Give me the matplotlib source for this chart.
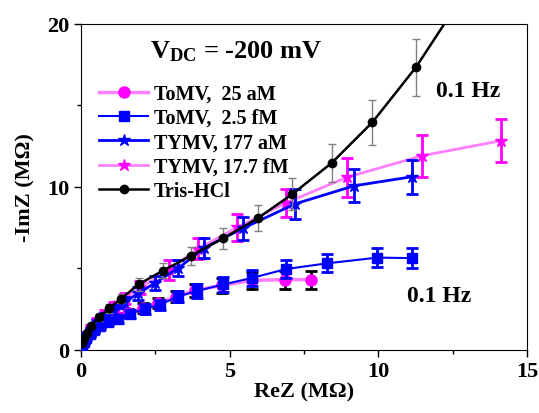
import numpy as np
import matplotlib.pyplot as plt
from matplotlib.ticker import MultipleLocator
from matplotlib.lines import Line2D

plt.rcParams['font.family'] = ['Liberation Serif', 'DejaVu Serif']
plt.rcParams['font.weight'] = 'bold'
plt.rcParams['mathtext.fontset'] = 'custom'
plt.rcParams['mathtext.bf'] = 'Liberation Serif:bold'
plt.rcParams['mathtext.rm'] = 'Liberation Serif:bold'

# ToMV, 25 aM
tomv25_x = [0.05, 0.1, 0.18, 0.3, 0.45, 0.65, 0.9, 1.2, 1.6, 2.1, 2.6, 3.2, 3.85, 4.75, 5.75, 6.85, 7.75]
tomv25_y = [0.3, 0.5, 0.75, 1.0, 1.25, 1.5, 1.75, 2.0, 2.25, 2.55, 2.85, 3.25, 3.65, 3.95, 4.25, 4.3, 4.3]
tomv25_e = [0.1, 0.1, 0.1, 0.15, 0.15, 0.2, 0.2, 0.25, 0.25, 0.3, 0.3, 0.35, 0.4, 0.45, 0.5, 0.55, 0.55]

# ToMV, 2.5 fM
tomv25f_x = [0.05, 0.1, 0.18, 0.3, 0.45, 0.65, 0.9, 1.25, 1.65, 2.15, 2.65, 3.25, 3.9, 4.78, 5.75, 6.9, 8.28, 9.97, 11.12]
tomv25f_y = [0.25, 0.45, 0.7, 0.95, 1.2, 1.45, 1.7, 1.9, 2.2, 2.5, 2.75, 3.25, 3.6, 4.0, 4.4, 4.95, 5.3, 5.65, 5.62]
tomv25f_e = [0.1, 0.1, 0.1, 0.15, 0.15, 0.2, 0.2, 0.25, 0.25, 0.3, 0.3, 0.35, 0.4, 0.45, 0.5, 0.55, 0.55, 0.6, 0.6]

# TYMV, 177 aM
tymv177_x = [0.05, 0.1, 0.2, 0.35, 0.55, 0.8, 1.1, 1.45, 1.93, 2.5, 3.27, 4.15, 5.45, 7.2, 9.19, 11.12]
tymv177_y = [0.3, 0.55, 0.85, 1.2, 1.6, 2.0, 2.45, 2.9, 3.45, 4.1, 5.0, 6.25, 7.45, 8.95, 10.06, 10.61]
tymv177_e = [0.1, 0.1, 0.15, 0.15, 0.2, 0.25, 0.3, 0.35, 0.4, 0.45, 0.5, 0.6, 0.7, 0.9, 1.0, 1.05]

# TYMV, 17.7 fM
tymv17_x = [0.05, 0.1, 0.2, 0.35, 0.55, 0.8, 1.1, 1.5, 2.0, 2.95, 3.95, 5.25, 6.88, 8.94, 11.46, 14.13]
tymv17_y = [0.35, 0.6, 0.95, 1.35, 1.75, 2.2, 2.65, 3.15, 3.8, 4.9, 6.2, 7.5, 9.0, 10.58, 11.9, 12.83]
tymv17_e = [0.1, 0.1, 0.15, 0.15, 0.2, 0.25, 0.3, 0.35, 0.4, 0.6, 0.65, 0.8, 0.85, 1.2, 1.3, 1.3]

# Tris-HCl
tris_x = [0.05, 0.12, 0.22, 0.35, 0.6, 0.94, 1.36, 1.95, 2.75, 3.69, 4.78, 5.94, 7.11, 8.43, 9.8, 11.26, 12.9]
tris_y = [0.4, 0.7, 1.05, 1.46, 1.98, 2.53, 3.14, 4.02, 4.84, 5.76, 6.83, 8.06, 9.55, 11.46, 13.96, 17.33, 21.9]
tris_e = [0.05, 0.1, 0.1, 0.15, 0.2, 0.25, 0.3, 0.4, 0.45, 0.55, 0.65, 0.8, 1.0, 1.14, 1.39, 1.74, 0.0]

labels = ['ToMV,  25 aM', 'ToMV,  2.5 fM', 'TYMV, 177 aM', 'TYMV, 17.7 fM', 'Tris-HCl']

fig = plt.figure(figsize=(5.39, 4.14), dpi=100)
ax = fig.add_axes([0.150, 0.153, 0.828, 0.787])

pink_line = '#FF80FF'
magenta = '#FF00FF'
blue = '#0000FF'

styles = [
    dict(color=pink_line, lw=2.5, marker='o', ms=8, mfc=magenta, mec=magenta),
    dict(color=blue, lw=1.5, marker='s', ms=7),
    dict(color=blue, lw=2, marker='*', ms=9),
    dict(color=pink_line, lw=2, marker='*', ms=9, mfc=magenta, mec=magenta),
    dict(color='black', lw=1.8, marker='o', ms=6),
]

ax.errorbar(tomv25_x, tomv25_y, yerr=tomv25_e, ecolor='black', elinewidth=2, capsize=4, capthick=2,
            zorder=3, **styles[0])
ax.errorbar(tomv25f_x, tomv25f_y, yerr=tomv25f_e, ecolor=blue, elinewidth=2, capsize=4, capthick=2,
            zorder=4, **styles[1])
ax.errorbar(tymv177_x, tymv177_y, yerr=tymv177_e, ecolor=blue, elinewidth=2, capsize=4, capthick=2,
            zorder=3, **styles[2])
ax.errorbar(tymv17_x, tymv17_y, yerr=tymv17_e, ecolor=magenta, elinewidth=2, capsize=4, capthick=2,
            zorder=2, **styles[3])
ax.errorbar(tris_x, tris_y, yerr=tris_e, ecolor='gray', elinewidth=1, capsize=3, capthick=1,
            zorder=5, **styles[4])

ax.set_xlim(0, 15)
ax.set_ylim(0, 20)
ax.xaxis.set_major_locator(MultipleLocator(5))
ax.xaxis.set_minor_locator(MultipleLocator(2.5))
ax.yaxis.set_major_locator(MultipleLocator(10))
ax.yaxis.set_minor_locator(MultipleLocator(5))
ax.tick_params(which='both', direction='out', labelsize=16, top=False, right=False)
ax.tick_params(which='major', length=5, width=1)
ax.tick_params(which='minor', length=3, width=1)
for lab in ax.get_xticklabels() + ax.get_yticklabels():
    lab.set_fontweight('bold')
ax.set_xlabel('ReZ (MΩ)', fontsize=16, fontweight='bold', labelpad=0)
ax.set_ylabel('-ImZ (MΩ)', fontsize=16, fontweight='bold', labelpad=8)

ax.text(0.155, 0.918, r'$\mathbf{V_{DC}}$ = -200 mV', transform=ax.transAxes, fontsize=19,
        fontweight='bold', va='center')
ax.text(0.795, 0.795, '0.1 Hz', transform=ax.transAxes, fontsize=17, fontweight='bold', va='center')
ax.text(0.73, 0.165, '0.1 Hz', transform=ax.transAxes, fontsize=17, fontweight='bold', va='center')

handles = [Line2D([], [], **s) for s in styles]
leg = ax.legend(handles, labels, loc='upper left', bbox_to_anchor=(0.01, 0.86), frameon=False,
                fontsize=14.5, handlelength=2.4, handletextpad=0.3, labelspacing=0.22,
                borderaxespad=0.3)
for t in leg.get_texts():
    t.set_fontweight('bold')

fig.savefig('out.png', dpi=100)
